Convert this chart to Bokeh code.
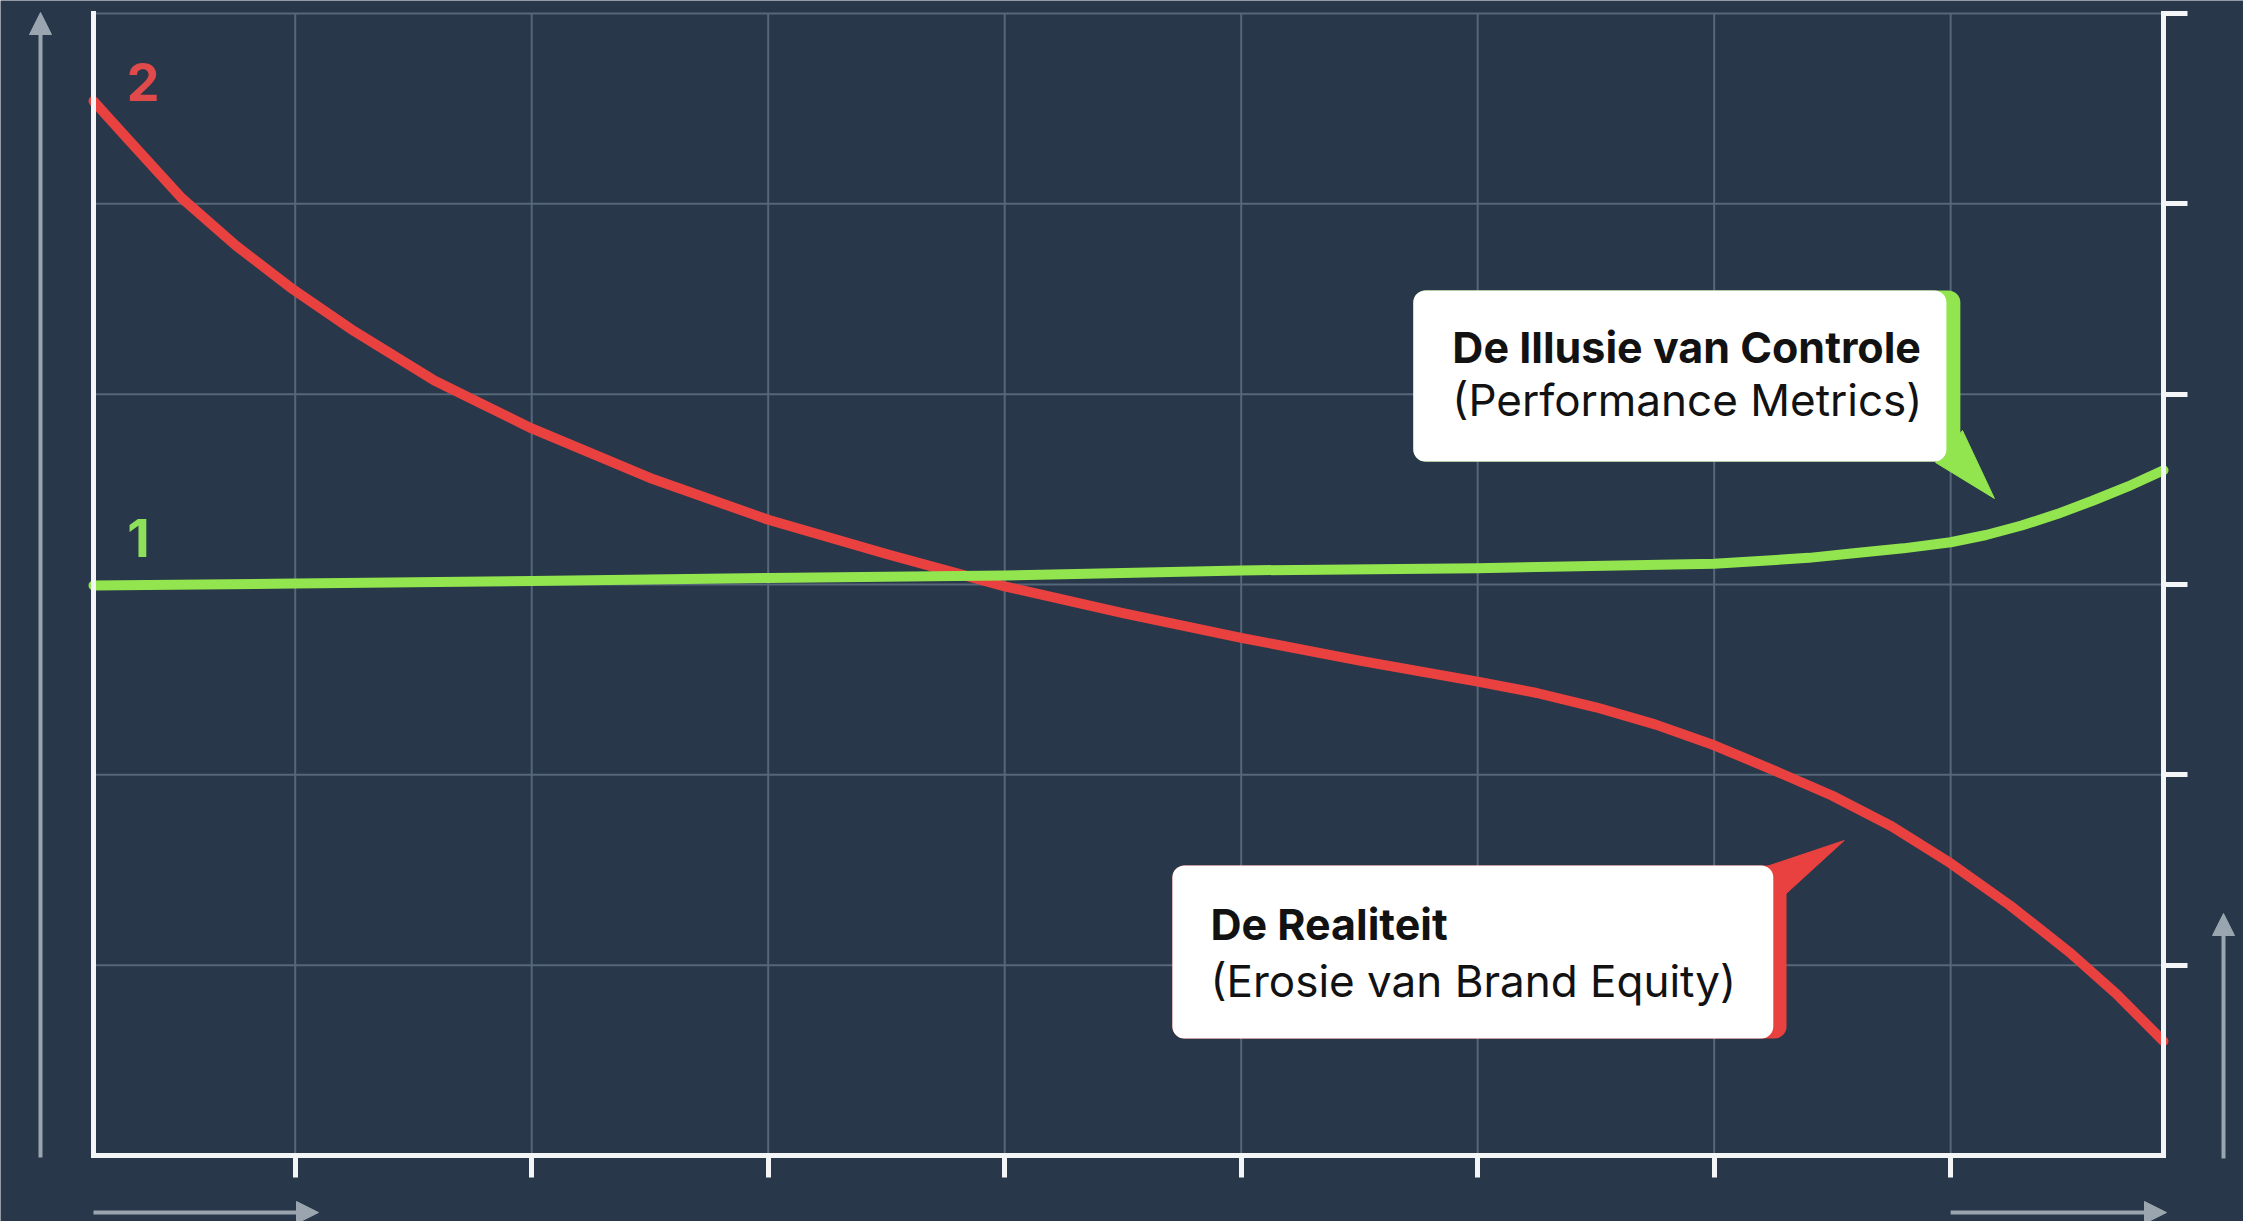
from bokeh.plotting import figure
from bokeh.models import (Range1d, LinearAxis, FixedTicker, BoxAnnotation, Arrow,
                          NormalHead)
from bokeh.embed import file_html
from bokeh.resources import INLINE
from bokeh.core.properties import value

# ---------------- data ----------------
red_x = [0.147, 0.3, 0.52, 0.75, 0.98, 1.25, 1.59, 2.0, 2.5, 3.0, 3.5, 4.0,
         4.5, 5.0, 5.5, 6.0, 6.25, 6.5, 6.75, 7.0, 7.25, 7.5, 7.75, 8.0,
         8.25, 8.5, 8.7, 8.9]
red_y = [5.54, 5.33, 5.03, 4.78, 4.56, 4.33, 4.07, 3.82, 3.56, 3.34, 3.16, 2.99,
         2.85, 2.72, 2.60, 2.49, 2.43, 2.355, 2.265, 2.155, 2.025, 1.89, 1.73,
         1.535, 1.315, 1.07, 0.85, 0.60]

green_x = [0.147, 1, 2, 3, 4, 5, 6, 7, 7.4, 7.6, 7.8, 8.0, 8.15, 8.3, 8.45,
           8.6, 8.75, 8.9]
green_y = [2.995, 3.005, 3.018, 3.034, 3.047, 3.074, 3.086, 3.109, 3.14, 3.165,
           3.19, 3.222, 3.26, 3.31, 3.37, 3.44, 3.515, 3.60]

x_ticks = [1, 2, 3, 4, 5, 6, 7, 8]
y_ticks = [1, 2, 3, 4, 5, 6]
series_labels = ["2", "1"]
callout_titles = ["De Illusie van Controle", "De Realiteit"]
callout_subtitles = ["(Performance Metrics)", "(Erosie van Brand Equity)"]

# ---------------- styling / layout ----------------
W, H = 2243, 1221
BG = "#283749"
GRIDC = "#56677a"
AXC = "#F3F5F7"
DECO = "#9AA5B0"
RED = "#E8413F"
GREEN = "#92E54E"
RED_TXT = "#E04A4A"
GREEN_TXT = "#8EE05A"
FONT = "Inter"

X0, X1 = 0.147, 8.9          # plotted x extent (axes sit here)
Y0, Y1 = 0.0, 6.0            # plotted y extent
PX_L, PX_R, PX_T, PX_B = 93, 2163, 13, 1155   # pixel placement of that box
sx = (PX_R - PX_L) / (X1 - X0)
sy = (PX_B - PX_T) / (Y1 - Y0)

p = figure(width=W, height=H, output_backend="svg", toolbar_location=None,
           x_range=Range1d(X0 - PX_L / sx, X1 + (W - PX_R) / sx),
           y_range=Range1d(Y0 - (H - PX_B) / sy, Y1 + PX_T / sy),
           x_axis_type=None, y_axis_type=None, min_border=0,
           background_fill_color=BG, border_fill_color=BG,
           outline_line_color=None)

# grid lines, limited to the axes box
p.segment(x0=x_ticks, y0=[Y0] * len(x_ticks), x1=x_ticks,
          y1=[Y1] * len(x_ticks), line_color=GRIDC, line_width=2,
          level="underlay")
p.segment(x0=[X0] * len(y_ticks), y0=y_ticks, x1=[X1] * len(y_ticks),
          y1=y_ticks, line_color=GRIDC, line_width=2, level="underlay")

# axes (drawn at fixed data locations)
def make_axis(ticks, tick_out, loc, bounds):
    return LinearAxis(ticker=FixedTicker(ticks=ticks), fixed_location=loc,
                      bounds=bounds,
                      axis_line_color=AXC, axis_line_width=5,
                      axis_line_cap="square",
                      major_tick_line_color=AXC if ticks else None,
                      major_tick_line_width=5, major_tick_in=0,
                      major_tick_out=tick_out,
                      minor_tick_line_color=None,
                      major_label_text_color=None,
                      major_label_text_font_size="1px")

p.add_layout(make_axis(x_ticks, 22, Y0, (X0, X1)), "below")
p.add_layout(make_axis([], 0, X0, (Y0, Y1)), "left")
p.add_layout(make_axis(y_ticks, 24, X1, (Y0, Y1)), "right")

# curves
p.line(red_x, red_y, line_color=RED, line_width=10, line_cap="round",
       line_join="round")
p.line(green_x, green_y, line_color=GREEN, line_width=10, line_cap="round",
       line_join="round")

# series number labels
p.text(x=[red_x[0] + 0.21, green_x[0] + 0.19],
       y=[red_y[0] + 0.10, green_y[0] + 0.25],
       text=series_labels, text_color=[RED_TXT, GREEN_TXT],
       text_font=value(FONT), text_font_style="bold", text_font_size="52px",
       text_align="center", text_baseline="middle")

# callouts ------------------------------------------------------------
def callout(left, right, top, bottom, shade, color, tail_x, tail_y,
            title, subtitle, tx, ty1, ty2):
    p.add_layout(BoxAnnotation(left=left, right=right + shade, top=top,
                               bottom=bottom, fill_color=color, fill_alpha=1,
                               line_color=None, border_radius=12))
    p.add_layout(BoxAnnotation(left=left, right=right, top=top, bottom=bottom,
                               fill_color="white", fill_alpha=1,
                               line_color=None, border_radius=12))
    p.patch(tail_x, tail_y, fill_color=color, line_color=color, line_width=1,
            level="annotation")
    p.text(x=[tx], y=[ty1], text=[title], text_color="#121212",
           text_font=value(FONT), text_font_style="bold",
           text_font_size="43px", text_baseline="middle",
           text_align="left", level="overlay")
    p.text(x=[tx], y=[ty2], text=[subtitle], text_color="#121212",
           text_font=value(FONT), text_font_style="normal",
           text_font_size="44px", text_baseline="middle",
           text_align="left", level="overlay")

callout(5.728, 7.982, 4.545, 3.646, 0.059, GREEN,
        [7.936, 8.050, 8.185], [3.641, 3.809, 3.452],
        callout_titles[0], callout_subtitles[0], 5.893, 4.250, 3.967)

callout(4.709, 7.250, 1.524, 0.615, 0.056, RED,
        [7.221, 7.305, 7.550], [1.518, 1.377, 1.655],
        callout_titles[1], callout_subtitles[1], 4.870, 1.214, 0.919)

# decorative direction arrows outside the axes box ----------------------
def deco(xs, ys, xe, ye):
    p.add_layout(Arrow(x_start=xs, y_start=ys, x_end=xe, y_end=ye,
                       line_color=DECO, line_width=4,
                       end=NormalHead(size=22, fill_color=DECO,
                                      line_color=DECO)))

deco(X0 - 53 / sx, Y0 - 2 / sy, X0 - 53 / sx, Y1 + 1 / sy)
deco(X1 + 60 / sx, Y0 - 3 / sy, X1 + 60 / sx, Y0 + 242 / sy)
deco(X0, Y0 - 57 / sy, X0 + 225 / sx, Y0 - 57 / sy)
deco(x_ticks[-1], Y0 - 57 / sy, X1 + 3 / sx, Y0 - 57 / sy)

open("out.html", "w").write(file_html(p, INLINE))
